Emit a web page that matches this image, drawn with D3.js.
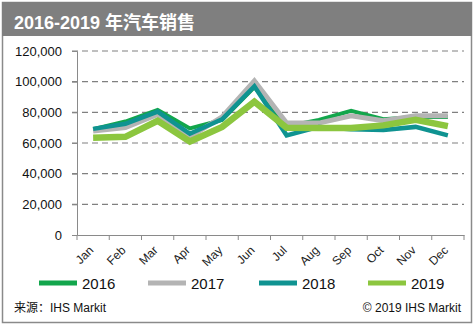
<!DOCTYPE html>
<html><head><meta charset="utf-8">
<script src="https://cdn.jsdelivr.net/npm/d3@7"></script>
<style>
html,body{margin:0;padding:0;background:#fff;}
svg{display:block;font-family:"Liberation Sans",Arial,"Noto Sans CJK SC",sans-serif;}
</style></head>
<body>
<svg id="c" width="474" height="327"></svg>
<script>
const titleText = "2016-2019 年汽车销售";
const months = ["Jan","Feb","Mar","Apr","May","Jun","Jul","Aug","Sep","Oct","Nov","Dec"];
const yTicks = [0,20000,40000,60000,80000,100000,120000];
const seriesNames = ["2016","2017","2018","2019"];
const sales2016 = [69000, 74000, 81500, 69500, 75000, 96500, 71000, 75000, 81000, 75500, 77000, 77000];
const sales2017 = [67800, 70000, 78700, 64000, 77000, 100500, 73000, 73000, 77800, 74500, 77800, 77800];
const sales2018 = [69200, 72500, 80500, 66000, 75500, 97000, 65000, 70500, 69000, 68500, 70500, 65000];
const sales2019 = [63500, 64000, 74500, 61000, 70500, 87000, 70000, 69800, 69800, 71500, 75200, 71000];
const colors = ["#12a64c","#b4b4b4","#0f9391","#8cc63f"];
const widths = [4,5,4.5,6.5];
const seriesValues = [sales2016, sales2017, sales2018, sales2019];
const sourceText = "来源：IHS Markit";
const copyText = "© 2019 IHS Markit";

const svg = d3.select("#c");
// frame
svg.append("rect").attr("x",2.5).attr("y",2.5).attr("width",469).attr("height",320)
  .attr("fill","#fff").attr("stroke","#8a8a8a").attr("stroke-width",1.5);
svg.append("rect").attr("x",2).attr("y",2).attr("width",470).attr("height",34).attr("fill","#7f7f7f");
svg.append("text").attr("x",14).attr("y",29).attr("fill","#fff")
  .attr("font-size",18).attr("font-weight","bold").text(titleText);

const x = d3.scaleBand().domain(months).range([77,464]).padding(0);
const y = d3.scaleLinear().domain([0,120000]).range([235,51]);

// gridlines
svg.append("g").selectAll("line").data(yTicks.filter(d=>d>0)).join("line")
  .attr("x1",72).attr("x2",464).attr("y1",d=>y(d)).attr("y2",d=>y(d))
  .attr("stroke","#808080").attr("stroke-width",1.2).attr("stroke-dasharray","6,4");

// y axis
const ya = svg.append("g").attr("transform","translate(77,0)")
  .call(d3.axisLeft(y).tickValues(yTicks).tickFormat(d3.format(",")).tickSize(5).tickPadding(10));
ya.select(".domain").attr("stroke","#8a8a8a");
ya.selectAll(".tick line").attr("stroke","#8a8a8a");
ya.selectAll("text").attr("font-size",13).attr("fill","#111").attr("font-family","\"Liberation Sans\",Arial,sans-serif");

// x axis
const xa = svg.append("g").attr("transform","translate(0,235)")
  .call(d3.axisBottom(x).tickSize(0).tickFormat(d=>d));
xa.select(".domain").attr("stroke","#8a8a8a");
xa.selectAll(".tick text").attr("font-size",12).attr("fill","#222")
  .attr("font-family","\"Liberation Sans\",Arial,sans-serif")
  .attr("text-anchor","end").attr("dy",null).attr("y",0).attr("x",0)
  .attr("transform","translate(1,16) rotate(-45)");
// boundary ticks
svg.append("g").selectAll("line").data(months.concat(["_end"])).join("line")
  .attr("x1",(d,i)=>77+i*x.bandwidth()).attr("x2",(d,i)=>77+i*x.bandwidth())
  .attr("y1",235).attr("y2",240).attr("stroke","#8a8a8a");

// lines
const line = d3.line().x((d,i)=>x(months[i])+x.bandwidth()/2).y(d=>y(d));
svg.append("g").selectAll("path").data(seriesValues).join("path")
  .attr("d",d=>line(d)).attr("fill","none")
  .attr("stroke",(d,i)=>colors[i]).attr("stroke-width",(d,i)=>widths[i])
  .attr("stroke-linejoin","miter");

// legend
const legX = [39,148,259,368];
const lg = svg.append("g").selectAll("g").data(seriesNames).join("g")
  .attr("transform",(d,i)=>`translate(${legX[i]},283)`);
lg.append("line").attr("x1",0).attr("x2",38).attr("y1",0).attr("y2",0)
  .attr("stroke",(d,i)=>colors[i]).attr("stroke-width",5);
lg.append("text").attr("x",43).attr("y",5.5).attr("font-size",15).attr("fill","#111").text(d=>d);

// footer
svg.append("text").attr("x",14).attr("y",312).attr("font-size",12).attr("fill","#111").text(sourceText);
svg.append("text").attr("x",461).attr("y",312).attr("font-size",12).attr("fill","#111")
  .attr("text-anchor","end").text(copyText);
</script>
</body></html>
